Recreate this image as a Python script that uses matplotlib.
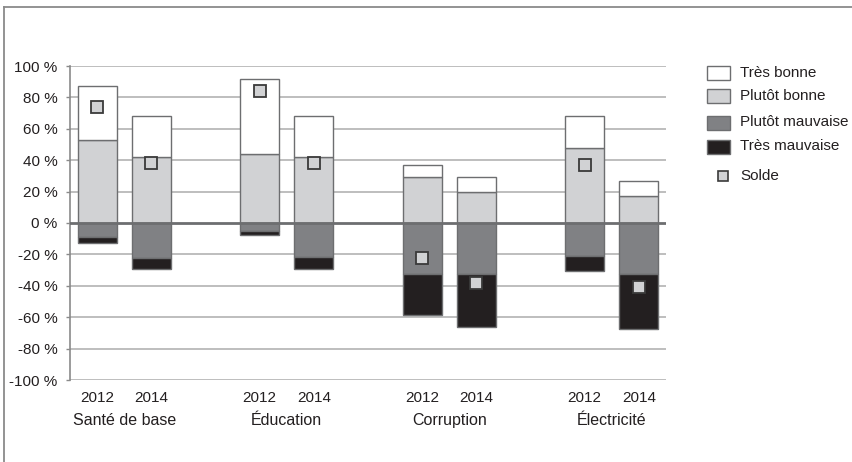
import matplotlib
matplotlib.use("Agg")
import matplotlib.pyplot as plt
from matplotlib.patches import Rectangle
from matplotlib.lines import Line2D
import numpy as np

plt.rcParams['font.family'] = ['Liberation Sans', 'DejaVu Sans']

# Data (percentages)
categories = ["Santé de base", "Éducation", "Corruption", "Électricité"]
years = ["2012", "2014"]
tres_bonne = [34, 26, 48, 26, 8, 9, 20, 10]
plutot_bonne = [53, 42, 44, 42, 29, 20, 48, 17]
plutot_mauvaise = [9, 22, 5, 21.5, 32.5, 32.5, 21, 32.5]
tres_mauvaise = [3.5, 7.5, 2.7, 8, 26, 34, 9.5, 35]
solde = [74, 38, 84, 38, -22, -38, 37, -41]
yticks = list(range(-100, 101, 20))

C_TB = "#ffffff"
C_PB = "#d1d2d4"
C_PM = "#808184"
C_TM = "#231f20"
EDGE = "#6d6e70"
TXT = "#231f20"

# positions: each category holds two bars, then a gap of one slot
x = np.array([g * 3 + i for g in range(len(categories)) for i in range(2)], dtype=float)
width = 0.72

fig = plt.figure(figsize=(8.52, 4.62), dpi=100)
ax = fig.add_axes([70 / 852, 1 - 380 / 462, (666 - 70) / 852, (380 - 66) / 462])

for yv in yticks:
    if yv != 0:
        ax.axhline(yv, color="#b3b3b3", lw=1.2, zorder=0)

pb = np.array(plutot_bonne)
pm = np.array(plutot_mauvaise)
ax.bar(x, pb, width, color=C_PB, edgecolor=EDGE, lw=1, zorder=2)
ax.bar(x, tres_bonne, width, bottom=pb, color=C_TB, edgecolor=EDGE, lw=1, zorder=2)
ax.bar(x, -pm, width, color=C_PM, edgecolor=EDGE, lw=1, zorder=2)
ax.bar(x, -np.array(tres_mauvaise), width, bottom=-pm, color=C_TM, edgecolor=EDGE, lw=1, zorder=2)
ax.axhline(0, color="#6d6e70", lw=2, zorder=3)
ax.plot(x, solde, ls="none", marker="s", ms=8.2, mfc=C_PB, mec="#3a3a3a", mew=1.3, zorder=4)

ax.set_xlim(-0.5, 10.5)
ax.set_ylim(-100, 100)
ax.set_yticks(yticks)
ax.set_yticklabels([f"{v} %" for v in yticks], fontsize=11, color=TXT)
ax.tick_params(axis="y", length=3, width=1, color="#8a8a8a", pad=6)
ax.set_xticks(x)
ax.set_xticklabels(years * len(categories), fontsize=11, color=TXT)
ax.tick_params(axis="x", length=0, pad=8)
for s in ["top", "right", "bottom"]:
    ax.spines[s].set_visible(False)
ax.spines["left"].set_color("#8a8a8a")
ax.spines["left"].set_linewidth(1.2)

for g, cat in enumerate(categories):
    ax.text(g * 3 + 0.5, -0.128, cat, transform=ax.get_xaxis_transform(),
            ha="center", va="center", fontsize=11.5, color=TXT)

# legend, drawn by hand to keep the uneven spacing
def px(xp, yp):
    return xp / 852, 1 - yp / 462

leg = [("Très bonne", C_TB, 73), ("Plutôt bonne", C_PB, 96),
       ("Plutôt mauvaise", C_PM, 122.5), ("Très mauvaise", C_TM, 146.5)]
for label, col, yc in leg:
    x0, y0 = px(707, yc + 7)
    fig.add_artist(Rectangle((x0, y0), 23 / 852, 14 / 462, transform=fig.transFigure,
                             facecolor=col, edgecolor=EDGE, lw=1))
    fig.text(740 / 852, 1 - yc / 462, label, ha="left", va="center",
             fontsize=11, color=TXT)
sx, sy = px(723, 176)
fig.add_artist(Line2D([sx], [sy], transform=fig.transFigure, ls="none", marker="s",
                      ms=7.5, mfc=C_PB, mec="#3a3a3a", mew=1.2))
fig.text(740 / 852, sy, "Solde", ha="left", va="center", fontsize=11, color=TXT)

# frame on top and left edges
fig.add_artist(Line2D([4 / 852, 1], [1 - 7 / 462] * 2, transform=fig.transFigure,
                      color="#8a8a8a", lw=1.3))
fig.add_artist(Line2D([4 / 852] * 2, [0, 1 - 7 / 462], transform=fig.transFigure,
                      color="#8a8a8a", lw=1.3))

fig.savefig("out.png", dpi=100)
